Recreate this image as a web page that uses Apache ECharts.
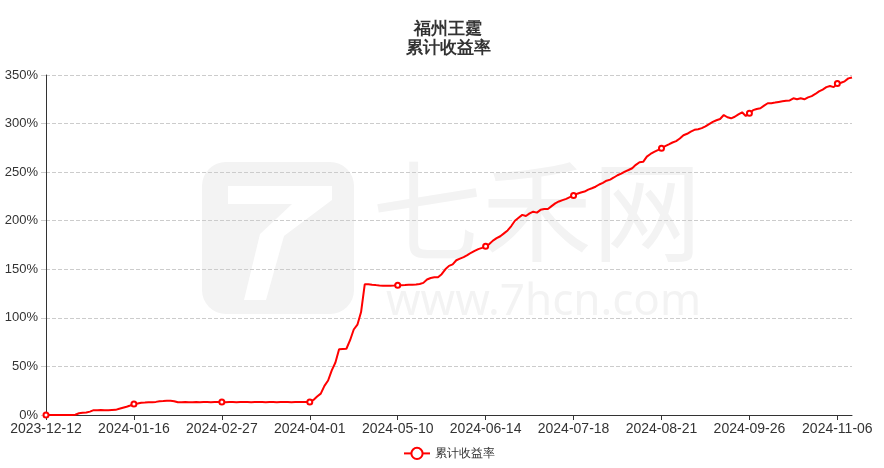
<!DOCTYPE html>
<html><head><meta charset="utf-8">
<script src="https://cdn.jsdelivr.net/npm/echarts@6/dist/echarts.min.js"></script>
<style>html,body{margin:0;padding:0;background:#fff}#c{width:884px;height:468px}</style>
</head><body><div id="c"></div>
<script>
const titleLines = ['福州王霆', '累计收益率'];
const seriesName = '累计收益率';
const dates = [
'2023-12-12','2023-12-13','2023-12-14','2023-12-15','2023-12-18','2023-12-19','2023-12-20','2023-12-21','2023-12-22','2023-12-25','2023-12-26','2023-12-27','2023-12-28','2023-12-29',
'2024-01-02','2024-01-03','2024-01-04','2024-01-05','2024-01-08','2024-01-09','2024-01-10','2024-01-11','2024-01-12','2024-01-15','2024-01-16','2024-01-17','2024-01-18','2024-01-19','2024-01-22','2024-01-23','2024-01-24','2024-01-25','2024-01-26','2024-01-29','2024-01-30','2024-01-31',
'2024-02-01','2024-02-02','2024-02-05','2024-02-06','2024-02-07','2024-02-08','2024-02-19','2024-02-20','2024-02-21','2024-02-22','2024-02-23','2024-02-26','2024-02-27','2024-02-28','2024-02-29',
'2024-03-01','2024-03-04','2024-03-05','2024-03-06','2024-03-07','2024-03-08','2024-03-11','2024-03-12','2024-03-13','2024-03-14','2024-03-15','2024-03-18','2024-03-19','2024-03-20','2024-03-21','2024-03-22','2024-03-25','2024-03-26','2024-03-27','2024-03-28','2024-03-29',
'2024-04-01','2024-04-02','2024-04-03','2024-04-08','2024-04-09','2024-04-10','2024-04-11','2024-04-12','2024-04-15','2024-04-16','2024-04-17','2024-04-18','2024-04-19','2024-04-22','2024-04-23','2024-04-24','2024-04-25','2024-04-26','2024-04-29','2024-04-30',
'2024-05-06','2024-05-07','2024-05-08','2024-05-09','2024-05-10','2024-05-13','2024-05-14','2024-05-15','2024-05-16','2024-05-17','2024-05-20','2024-05-21','2024-05-22','2024-05-23','2024-05-24','2024-05-27','2024-05-28','2024-05-29','2024-05-30','2024-05-31',
'2024-06-03','2024-06-04','2024-06-05','2024-06-06','2024-06-07','2024-06-11','2024-06-12','2024-06-13','2024-06-14','2024-06-17','2024-06-18','2024-06-19','2024-06-20','2024-06-21','2024-06-24','2024-06-25','2024-06-26','2024-06-27','2024-06-28',
'2024-07-01','2024-07-02','2024-07-03','2024-07-04','2024-07-05','2024-07-08','2024-07-09','2024-07-10','2024-07-11','2024-07-12','2024-07-15','2024-07-16','2024-07-17','2024-07-18','2024-07-19','2024-07-22','2024-07-23','2024-07-24','2024-07-25','2024-07-26','2024-07-29','2024-07-30','2024-07-31',
'2024-08-01','2024-08-02','2024-08-05','2024-08-06','2024-08-07','2024-08-08','2024-08-09','2024-08-12','2024-08-13','2024-08-14','2024-08-15','2024-08-16','2024-08-19','2024-08-20','2024-08-21','2024-08-22','2024-08-23','2024-08-26','2024-08-27','2024-08-28','2024-08-29','2024-08-30',
'2024-09-02','2024-09-03','2024-09-04','2024-09-05','2024-09-06','2024-09-09','2024-09-10','2024-09-11','2024-09-12','2024-09-13','2024-09-18','2024-09-19','2024-09-20','2024-09-23','2024-09-24','2024-09-25','2024-09-26','2024-09-27','2024-09-30',
'2024-10-08','2024-10-09','2024-10-10','2024-10-11','2024-10-14','2024-10-15','2024-10-16','2024-10-17','2024-10-18','2024-10-21','2024-10-22','2024-10-23','2024-10-24','2024-10-25','2024-10-28','2024-10-29','2024-10-30','2024-10-31',
'2024-11-01','2024-11-04','2024-11-05','2024-11-06','2024-11-07','2024-11-08','2024-11-11','2024-11-12'
];
const returns = [
0,0,0,0,0,0,0,0,0.3,1.8,2.3,2.5,3.5,5.0,
5.0,5.1,5.0,5.0,5.2,5.3,6.5,7.5,8.5,9.8,11.2,11.8,12.7,12.8,13.0,13.2,13.5,14.1,14.3,14.6,14.7,14.2,
13.1,13.2,13.3,13.2,13.2,13.3,13.2,13.3,13.3,13.2,13.3,13.3,13.3,13.2,13.3,
13.3,13.2,13.3,13.3,13.3,13.2,13.3,13.3,13.3,13.2,13.3,13.3,13.2,13.3,13.3,13.3,13.2,13.3,13.3,13.3,13.3,
13.3,15.5,19.0,22.0,30.0,35.5,46.0,54.0,67.6,68.0,68.2,77.0,88.0,93.0,106.0,134.5,134.5,134.0,133.7,133.3,
133.1,133.0,133.1,133.2,133.5,133.6,133.7,134.0,134.1,134.3,134.8,136.0,139.5,141.0,141.7,141.8,145.0,150.0,153.5,155.0,
159.3,161.0,162.5,164.5,167.0,169.0,170.8,172.0,173.8,176.0,179.5,182.0,184.0,187.0,190.0,194.5,200.0,203.0,206.0,
204.8,207.5,209.3,208.3,211.2,212.0,212.0,215.0,217.8,219.8,221.2,222.5,224.3,226.0,227.8,229.0,230.0,232.0,233.4,235.0,237.3,239.0,241.2,
242.3,244.5,246.8,248.5,250.6,252.2,254.0,257.5,260.2,260.6,266.0,268.7,270.8,272.6,274.6,276.8,278.6,280.5,282.0,284.6,288.0,289.5,
291.8,293.6,294.2,295.3,297.2,299.5,301.8,303.4,304.7,308.8,306.5,305.4,307.0,309.5,311.6,307.8,310.5,313.8,315.0,
315.7,318.5,320.9,321.0,321.6,322.3,322.9,323.4,323.8,326.0,325.0,326.0,325.0,327.0,328.3,330.5,333.2,335.0,
337.5,338.7,337.5,341.2,342.0,343.5,346.5,347.5
];
const yMax = 350, yStep = 50;

const chart = echarts.init(document.getElementById('c'));
chart.setOption({
  animation: false,
  title: {
    text: titleLines.join('\n'),
    left: 443,
    textAlign: 'center',
    top: 15,
    textStyle: { fontSize: 17, fontWeight: 'bold', color: '#333', lineHeight: 19 }
  },
  graphic: [
    { type: 'text', z: -10, left: 372, top: 156, style: { text: '七禾网', fontSize: 110, fill: '#f3f3f3', fontFamily: 'Noto Sans CJK SC' } },
    { type: 'text', z: -10, left: 386, top: 280, style: { text: 'www.7hcn.com', fontSize: 44, fill: '#f3f3f3', fontFamily: 'Noto Sans', letterSpacing: 1 } },
    { type: 'rect', z: -10, shape: { x: 202, y: 162, width: 152, height: 152, r: 24 }, style: { fill: '#f3f3f3' } },
    { type: 'polygon', z: -9, shape: { points: [[228,186],[332,186],[332,200],[284,236],[266,300],[244,300],[260,234],[292,204],[228,204]] }, style: { fill: '#ffffff' } }
  ],
  legend: {
    bottom: 3,
    left: 398,
    itemWidth: 26, itemHeight: 14,
    textStyle: { color: '#333', fontSize: 12 },
    data: [seriesName]
  },
  grid: { left: 46, right: 32, top: 75, bottom: 53 },
  xAxis: {
    type: 'category',
    data: dates,
    boundaryGap: false,
    axisLine: { lineStyle: { color: '#333' } },
    axisTick: { alignWithLabel: true, interval: 23 },
    axisLabel: { interval: 23, color: '#333', fontSize: 14, margin: 7 }
  },
  yAxis: {
    type: 'value',
    min: 0, max: yMax, interval: yStep,
    axisLine: { show: true, lineStyle: { color: '#333' } },
    axisTick: { show: true, length: 5, lineStyle: { color: '#ccc' } },
    axisLabel: { formatter: '{value}%', color: '#333', fontSize: 13 },
    splitLine: { lineStyle: { type: 'dashed', color: '#ccc' } }
  },
  series: [{
    name: seriesName,
    type: 'line',
    data: returns,
    symbol: 'emptyCircle',
    symbolSize: 5,
    showAllSymbol: 'auto',
    itemStyle: { color: '#ff0000', borderWidth: 1 },
    lineStyle: { color: '#ff0000', width: 2 }
  }]
});
</script></body></html>
